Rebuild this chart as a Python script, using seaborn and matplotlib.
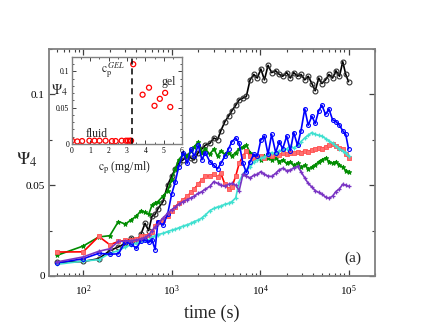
import matplotlib
matplotlib.use("Agg")
import matplotlib.pyplot as plt
import matplotlib.ticker as mticker
import seaborn as sns
import numpy as np

# time axis shared by all runs (s)
time_s = [50, 100, 150, 200, 250, 300, 350, 400, 450, 500, 550, 600, 650, 700, 800, 900,
          1000, 1100, 1200, 1350, 1500, 1650, 1800, 2000, 2200, 2400, 2700, 3000, 3300, 3600,
          4000, 4400, 4800, 5300, 5800, 6400, 7000, 7700, 8500, 9300, 10200, 11200, 12300,
          13500, 15000, 16500, 18000, 20000, 22000, 24000, 26500, 29000, 32000, 35000, 38500,
          42000, 46000, 50000, 55000, 60000, 66000, 72000, 79000, 86000, 93000, 100000]

psi_black = [0.0075, 0.008, 0.0095, 0.014, 0.016, 0.018, 0.021, 0.019, 0.023, 0.029, 0.025, 0.033,
             0.034, 0.037, 0.041, 0.050, 0.055, 0.059, 0.062, 0.064, 0.066, 0.065, 0.064, 0.068,
             0.070, 0.072, 0.073, 0.076, 0.075, 0.080, 0.085, 0.088, 0.091, 0.094, 0.097, 0.098,
             0.099, 0.108, 0.111, 0.109, 0.114, 0.108, 0.116, 0.112, 0.113, 0.111, 0.110, 0.112,
             0.109, 0.112, 0.110, 0.111, 0.108, 0.110, 0.106, 0.102, 0.109, 0.106, 0.108, 0.111,
             0.109, 0.113, 0.110, 0.118, 0.111, 0.107]

psi_blue = [0.0072, 0.0095, 0.0125, 0.0120, 0.0122, 0.0189, 0.0175, 0.0152, 0.0195, 0.0198, 0.0185,
            0.0200, 0.0145, 0.030, 0.028, 0.034, 0.045, 0.052, 0.060, 0.068, 0.062, 0.070, 0.066,
            0.072, 0.064, 0.068, 0.063, 0.061, 0.059, 0.062, 0.066, 0.070, 0.074, 0.076, 0.073,
            0.062, 0.057, 0.063, 0.067, 0.066, 0.075, 0.077, 0.067, 0.078, 0.068, 0.074, 0.070,
            0.077, 0.069, 0.079, 0.072, 0.080, 0.092, 0.083, 0.088, 0.084, 0.091, 0.094, 0.089,
            0.092, 0.086, 0.085, 0.083, 0.080, 0.078, 0.070]

psi_green = [0.0113, 0.0165, 0.0215, 0.0222, 0.030, 0.0286, 0.031, 0.033, 0.036, 0.035, 0.034, 0.039,
             0.040, 0.041, 0.044, 0.047, 0.053, 0.059, 0.064, 0.067, 0.066, 0.069, 0.071, 0.074,
             0.068, 0.070, 0.067, 0.070, 0.066, 0.069, 0.067, 0.068, 0.066, 0.068, 0.070, 0.071,
             0.072, 0.068, 0.066, 0.065, 0.064, 0.066, 0.065, 0.064, 0.065, 0.063, 0.064, 0.062,
             0.063, 0.061, 0.062, 0.060, 0.061, 0.059, 0.060, 0.061, 0.063, 0.064, 0.065, 0.063,
             0.062, 0.063, 0.061, 0.060, 0.058, 0.057]

psi_red = [0.0132, 0.0133, 0.0218, 0.0172, 0.0190, 0.0196, 0.0200, 0.0204, 0.0218, 0.0222, 0.0227,
           0.0240, 0.0275, 0.0300, 0.0310, 0.0330, 0.0360, 0.0382, 0.0400, 0.0420, 0.0438, 0.0460,
           0.0480, 0.0505, 0.0530, 0.0548, 0.0552, 0.0560, 0.0545, 0.0565, 0.0505, 0.0480, 0.0490,
           0.0550, 0.0620, 0.0660, 0.0690, 0.0660, 0.0647, 0.0652, 0.0660, 0.0650, 0.0665, 0.0660,
           0.0672, 0.0668, 0.0675, 0.0670, 0.0680, 0.0675, 0.0685, 0.0680, 0.0690, 0.0685, 0.0695,
           0.0700, 0.0705, 0.0700, 0.0712, 0.0720, 0.0725, 0.0718, 0.0705, 0.0700, 0.0670, 0.0650]

psi_cyan = [0.0064, 0.0082, 0.0090, 0.0125, 0.0140, 0.0160, 0.0172, 0.0182, 0.0190, 0.0196, 0.0200,
            0.0215, 0.0222, 0.0228, 0.0235, 0.0245, 0.0252, 0.0258, 0.0265, 0.0275, 0.0282, 0.0290,
            0.0300, 0.0308, 0.0320, 0.0335, 0.0360, 0.0372, 0.0380, 0.0385, 0.0395, 0.0400, 0.0410,
            0.0430, 0.0520, 0.0560, 0.0585, 0.0600, 0.0628, 0.0640, 0.0650, 0.0656, 0.0668, 0.0680,
            0.0672, 0.0690, 0.0692, 0.0700, 0.0715, 0.0705, 0.0720, 0.0740, 0.0760, 0.0775, 0.0790,
            0.0780, 0.0775, 0.0770, 0.0757, 0.0745, 0.0730, 0.0715, 0.0700, 0.0690, 0.0675, 0.0660]

psi_purple = [0.0077, 0.0105, 0.0136, 0.0150, 0.0190, 0.0192, 0.0195, 0.0198, 0.0205, 0.0212, 0.0225,
              0.0250, 0.0270, 0.0285, 0.0320, 0.0345, 0.0365, 0.0380, 0.0395, 0.0410, 0.0420, 0.0430,
              0.0440, 0.0455, 0.0465, 0.0478, 0.0493, 0.0520, 0.0510, 0.0500, 0.0495, 0.0505, 0.0510,
              0.0500, 0.0470, 0.0560, 0.0550, 0.0540, 0.0555, 0.0560, 0.0575, 0.0560, 0.0550, 0.0548,
              0.0565, 0.0585, 0.0593, 0.0580, 0.0584, 0.0595, 0.0603, 0.0575, 0.0540, 0.0510, 0.0490,
              0.0470, 0.0460, 0.0450, 0.0435, 0.0428, 0.0440, 0.0465, 0.0480, 0.0505, 0.0500, 0.0493]

# inset: order parameter vs polymer concentration
cp_fluid = [0.0, 0.29, 0.55, 0.95, 1.23, 1.5, 1.83, 2.18, 2.38, 2.71, 2.94, 3.05, 3.16, 3.22]
psi_fluid = [0.0045, 0.0035, 0.004, 0.0045, 0.0045, 0.0045, 0.0045, 0.004, 0.004, 0.0045, 0.0045,
             0.0045, 0.0045, 0.0045]
cp_gel = [3.34, 3.85, 4.2, 4.5, 4.79, 5.08, 5.36]
psi_gel = [0.110, 0.068, 0.0777, 0.0527, 0.0623, 0.0705, 0.051]
cp_gel_line = 3.27

sns.set_style("ticks")
plt.rcParams['font.family'] = ['Liberation Serif', 'DejaVu Serif']
plt.rcParams['mathtext.fontset'] = 'stix'

frame = '#808080'

fig = plt.figure(figsize=(4.22, 3.26), dpi=100)
ax = fig.add_axes([0.116, 0.1534, 0.773, 0.6963])

series = [
    (psi_black, 'black', dict(marker='o', markersize=3.5, markerfacecolor='none', markeredgecolor='#303030', markeredgewidth=0.8)),
    (psi_green, '#008c00', dict(marker='*', markersize=3.5, markerfacecolor='#008c00', markeredgecolor='#008c00', markeredgewidth=0.6)),
    (psi_red, '#ff0000', dict(marker='s', markersize=3.0, markerfacecolor='#ff7070', markeredgecolor='#ff5050', markeredgewidth=0.6)),
    (psi_cyan, '#40e0d0', dict(marker='+', markersize=3.5, markeredgecolor='#40e0d0', markeredgewidth=0.9)),
    (psi_blue, '#0000ff', dict(marker='o', markersize=2.8, markerfacecolor='none', markeredgecolor='#0000ff', markeredgewidth=0.8)),
    (psi_purple, '#7a35c4', dict(marker='+', markersize=3.5, markeredgecolor='#7a35c4', markeredgewidth=0.9)),
]
for vals, col, mk in series:
    sns.lineplot(x=time_s, y=vals, ax=ax, color=col, linewidth=1.2,
                 estimator=None, sort=False, **mk)

ax.set_xscale('log')
ax.set_xlim(41, 2.0e5)
ax.set_ylim(0, 0.125)
ax.set_yticks([0, 0.05, 0.1])
ax.set_yticklabels(['0', '0.05', '0.1'])
ax.yaxis.set_minor_locator(mticker.MultipleLocator(0.025))
ax.xaxis.set_minor_locator(mticker.LogLocator(base=10, subs=np.arange(2, 10), numticks=20))
ax.tick_params(which='both', direction='in', top=True, right=True, colors='#404040',
               labelcolor='black', labelsize=8)
ax.tick_params(which='major', length=4.5, width=0.9)
ax.tick_params(which='minor', length=2.5, width=0.8)
ax.tick_params(axis='x', pad=5)
ax.tick_params(axis='y', pad=3)
for sp in ax.spines.values():
    sp.set_color(frame)
    sp.set_linewidth(1.3)

ax.set_xlabel('time (s)', fontsize=13)
ax.xaxis.set_label_coords(0.5, -0.128)
ax.set_ylabel(r'$\Psi_4$', fontsize=13, rotation=0)
ax.yaxis.set_label_coords(-0.068, 0.47)
ax.text(0.933, 0.079, '(a)', transform=ax.transAxes, fontsize=11, ha='center', va='center')

# inset
ax_in = fig.add_axes([0.1706, 0.5583, 0.2607, 0.2669])
sns.scatterplot(x=cp_fluid + cp_gel, y=psi_fluid + psi_gel, ax=ax_in, marker='o', s=13,
                facecolors='none', edgecolor='red', linewidth=0.9)
ax_in.collections[0].set_facecolor('none')
ax_in.collections[0].set_edgecolor('red')
ax_in.axvline(cp_gel_line, color='black', linestyle=(0, (4, 2.5)), linewidth=1.1)
ax_in.set_xlim(0, 6)
ax_in.set_ylim(0, 0.12)
ax_in.set_xticks([0, 1, 2, 3, 4, 5, 6])
ax_in.set_yticks([0, 0.05, 0.1])
ax_in.set_yticklabels(['0', '0.05', '0.1'])
ax_in.xaxis.set_minor_locator(mticker.MultipleLocator(0.5))
ax_in.yaxis.set_minor_locator(mticker.MultipleLocator(0.01))
ax_in.tick_params(which='both', direction='in', top=True, right=True, colors='#404040',
                  labelcolor='black', labelsize=5.5, pad=2)
ax_in.tick_params(which='major', length=3, width=0.7)
ax_in.tick_params(which='minor', length=1.6, width=0.6)
for sp in ax_in.spines.values():
    sp.set_color(frame)
    sp.set_linewidth(1.0)
ax_in.set_xlabel(r'$\mathrm{c}_\mathrm{p}$ (mg/ml)', fontsize=8.5)
ax_in.xaxis.set_label_coords(0.48, -0.18)
ax_in.set_ylabel(r'$\Psi_4$', fontsize=10, rotation=0)
ax_in.yaxis.set_label_coords(-0.11, 0.53)
ax_in.text(2.25, 0.1025, r'$\mathrm{c}_\mathrm{p}^{\,GEL}$', fontsize=8.5, ha='center', va='center')
ax_in.text(5.25, 0.0859, 'gel', fontsize=8.5, ha='center', va='center')
ax_in.text(1.35, 0.0139, 'fluid', fontsize=8.5, ha='center', va='center')

fig.savefig('out.png', dpi=100)
